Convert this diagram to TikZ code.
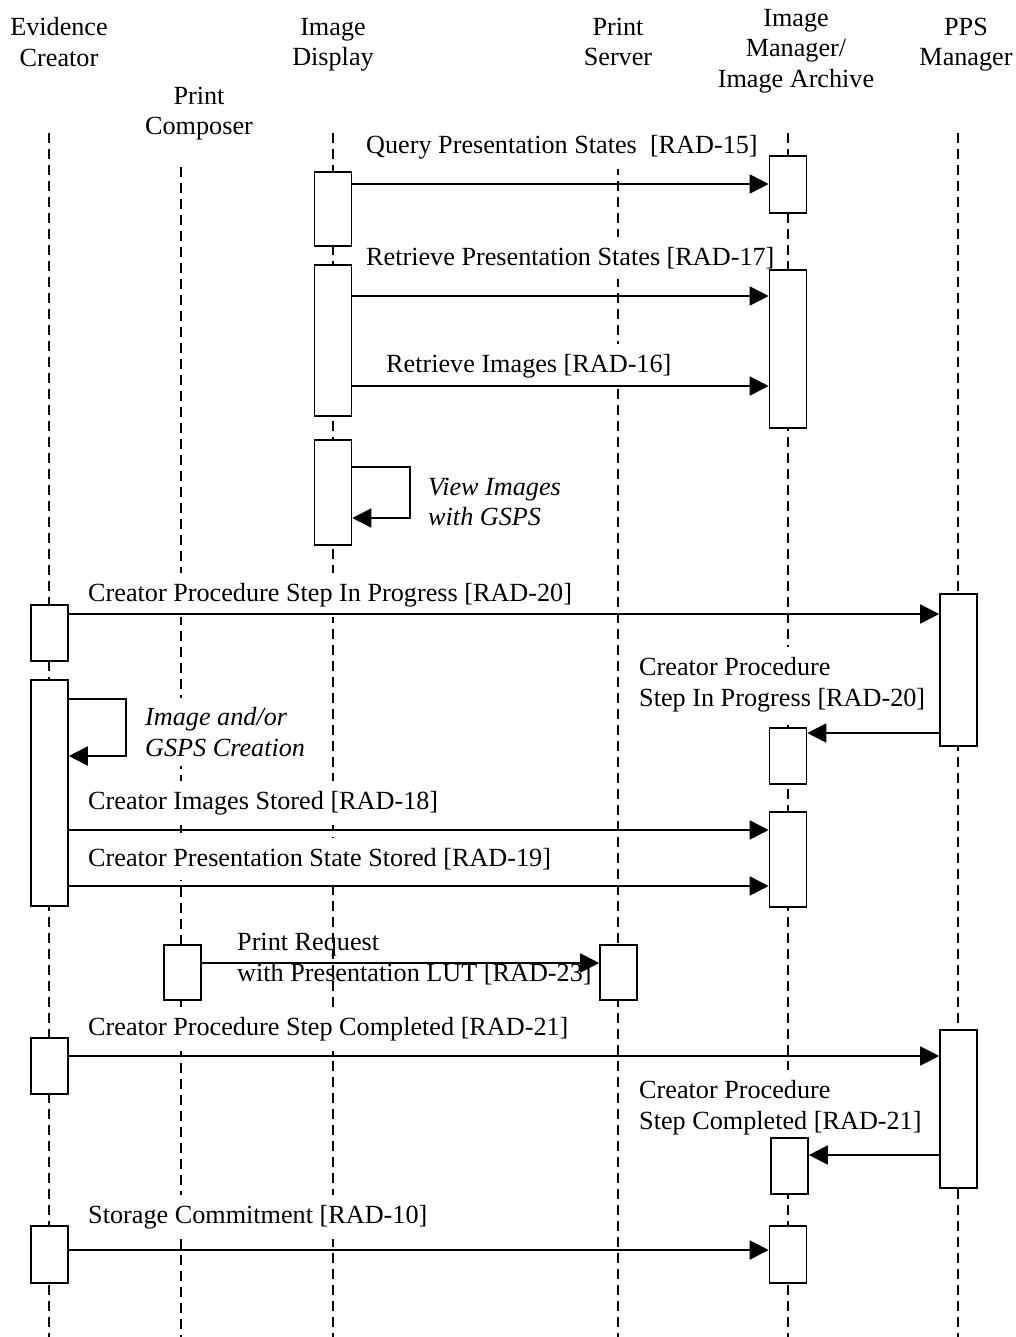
\documentclass[tikz,border=0pt]{standalone}
\usepackage{fontspec}
\setmainfont{Liberation Serif}
\usetikzlibrary{arrows.meta}
\begin{document}
\begin{tikzpicture}[x=1pt,y=-1pt,
  every node/.style={font=\fontsize{26.2}{30.5}\selectfont},
  hdr/.style={align=center, inner sep=0pt},
  lbl/.style={align=left, anchor=west, fill=white, inner xsep=1pt, inner ysep=10pt},
  lblit/.style={lbl, font=\fontsize{26.2}{30.5}\selectfont\itshape},
  life/.style={line width=1.3pt, dash pattern=on 10pt off 6pt},
  actbox/.style={draw, fill=white, line width=1.6pt, minimum width=37pt, inner sep=0pt},
  msg/.style={line width=1.8pt, -{Triangle[length=19pt,width=19pt]}}]
\useasboundingbox (0,0) rectangle (1015,1337);
% headers
\node[hdr] (hEC) at (59,42) {Evidence\\Creator};
\node[hdr] (hID) at (333,45) {Image\\Display};
\node[hdr] (hPS) at (618,42) {Print\\Server};
\node[hdr] (hIM) at (796,51) {Image\\Manager/\\Image Archive};
\node[hdr] (hPPS) at (966,44.5) {PPS\\Manager};
\node[hdr] (hPC) at (199,113.5) {Print\\Composer};
% lifelines
\coordinate (lEC) at (49,133);
\coordinate (lPC) at (181,167);
\coordinate (lID) at (333,133);
\coordinate (lPS) at (618,133);
\coordinate (lIM) at (788,133);
\coordinate (lPPS) at (958,133);
\foreach \c in {lEC,lPC,lID,lPS,lIM,lPPS}{\draw[life] (\c) -- (\c |- 0,1337);}
% labels
\node[lbl] (t1) at (365,147) {Query Presentation States\ \ [RAD-15]};
\node[lbl] (t2) at (365,258) {Retrieve Presentation States [RAD-17]};
\node[lbl] (t3) at (385,366) {Retrieve Images [RAD-16]};
\node[lblit] (t4) at (427,502) {View Images\\with GSPS};
\node[lbl] (t5) at (87,595) {Creator Procedure Step In Progress [RAD-20]};
\node[lbl] (t6) at (638,684.5) {Creator Procedure\\Step In Progress [RAD-20]};
\node[lblit] (t7) at (144,732) {Image and/or\\GSPS Creation};
\node[lbl] (t8) at (87,803) {Creator Images Stored [RAD-18]};
\node[lbl] (t9) at (87,859) {Creator Presentation State Stored [RAD-19]};
\node[lbl, fill=none] (t10) at (236,959) {Print Request\\with Presentation LUT [RAD-23]};
\node[lbl] (t11) at (87,1029) {Creator Procedure Step Completed [RAD-21]};
\node[lbl] (t12) at (638,1107.5) {Creator Procedure\\Step Completed [RAD-21]};
\node[lbl] (t13) at (87,1217) {Storage Commitment [RAD-10]};
% activation boxes
\node[actbox, minimum height=74pt] (ID1) at (333,209) {};
\node[actbox, minimum height=151pt] (ID2) at (333,340.5) {};
\node[actbox, minimum height=105pt] (ID3) at (333,492.5) {};
\node[actbox, minimum height=57pt] (IM1) at (788,184.5) {};
\node[actbox, minimum height=158pt] (IM2) at (788,349) {};
\node[actbox, minimum height=56pt] (IM3) at (788,756) {};
\node[actbox, minimum height=95pt] (IM4) at (788,859.5) {};
\node[actbox, minimum height=56pt] (IM5) at (789.5,1166) {};
\node[actbox, minimum height=57pt] (IM6) at (788,1254.5) {};
\node[actbox, minimum height=152pt] (PPS1) at (958.5,670) {};
\node[actbox, minimum height=158pt] (PPS2) at (958.5,1109) {};
\node[actbox, minimum height=56pt] (EC1) at (49.5,633) {};
\node[actbox, minimum height=226pt] (EC2) at (49.5,793) {};
\node[actbox, minimum height=56pt] (EC3) at (49.5,1066) {};
\node[actbox, minimum height=57pt] (EC4) at (49.5,1254.5) {};
\node[actbox, minimum height=55pt] (PC1) at (182.5,972.5) {};
\node[actbox, minimum height=55pt] (PS1) at (618.5,972.5) {};
% messages
\draw[msg] (ID1.east |- 0,184) -- (IM1.west |- 0,184);
\draw[msg] (ID2.east |- 0,296) -- (IM2.west |- 0,296);
\draw[msg] (ID2.east |- 0,386) -- (IM2.west |- 0,386);
\draw[msg] (ID3.east |- 0,467) -- ++(58,0) |- (ID3.east |- 0,518);
\draw[msg] (EC1.east |- 0,614) -- (PPS1.west |- 0,614);
\draw[msg] (PPS1.west |- 0,733) -- (IM3.east |- 0,733);
\draw[msg] (EC2.east |- 0,699) -- ++(57,0) |- (EC2.east |- 0,756);
\draw[msg] (EC2.east |- 0,830) -- (IM4.west |- 0,830);
\draw[msg] (EC2.east |- 0,886) -- (IM4.west |- 0,886);
\draw[msg] (PC1.east |- 0,963) -- (PS1.west |- 0,963);
\draw[msg] (EC3.east |- 0,1056) -- (PPS2.west |- 0,1056);
\draw[msg] (PPS2.west |- 0,1155) -- (IM5.east |- 0,1155);
\draw[msg] (EC4.east |- 0,1250) -- (IM6.west |- 0,1250);
\end{tikzpicture}
\end{document}
